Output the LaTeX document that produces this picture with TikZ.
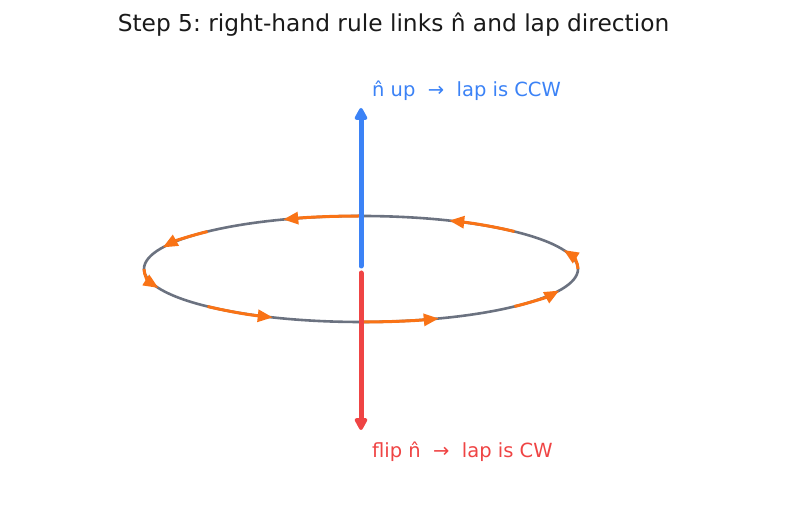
\documentclass[tikz,border=0pt]{standalone}
\usepackage{fontspec}
\setmainfont{DejaVu Sans}
\usetikzlibrary{arrows.meta,calc}
\definecolor{nblue}{HTML}{3B82F6}
\definecolor{nred}{HTML}{EF4444}
\definecolor{lapor}{HTML}{F97316}
\definecolor{ringgray}{HTML}{6B7280}
\definecolor{titlecol}{HTML}{1A1A1A}
\frenchspacing
\tikzset{
  titletext/.style={font=\fontsize{23.3}{27}\selectfont, text=titlecol, inner sep=0pt},
  lbl/.style={font=\fontsize{19.5}{23}\selectfont, inner sep=0pt, anchor=base west},
  ring/.style={draw=ringgray, line width=2.6pt},
  lap/.style={draw=lapor, line width=3pt, -{Triangle[length=15pt,width=12pt]}},
  normal/.style={line width=5pt, line cap=round, -{Triangle[length=14pt,width=14pt,round]}},
}
\begin{document}
\begin{tikzpicture}[x=1pt,y=1pt]
\useasboundingbox (0,0) rectangle (787,510);
\node[titletext, anchor=base] (title) at (393.5,478) {Step 5: right-hand rule links n̂ and lap direction};
\coordinate (c) at (361,241);
\draw[ring] (c) ellipse[x radius=217, y radius=53];
\foreach \a in {0,45,...,315}{
  \draw[lap] ([shift={({217*cos(\a)},{53*sin(\a)})}]c) arc[start angle=\a, end angle=\a+21, x radius=217, y radius=53];
}
\coordinate (bs) at (361,244);
\coordinate (bt) at (361,402);
\coordinate (rs) at (361,237);
\coordinate (rt) at (361,80);
\draw[normal, draw=nblue, fill=nblue] (bs) -- (bt);
\draw[normal, draw=nred, fill=nred] (rs) -- (rt);
\node[lbl, text=nblue] (up) at (372,413) {n̂ up\ \ →\ \ lap is CCW};
\node[lbl, text=nred] (down) at (372,52) {flip n̂\ \ →\ \ lap is CW};
\end{tikzpicture}
\end{document}
